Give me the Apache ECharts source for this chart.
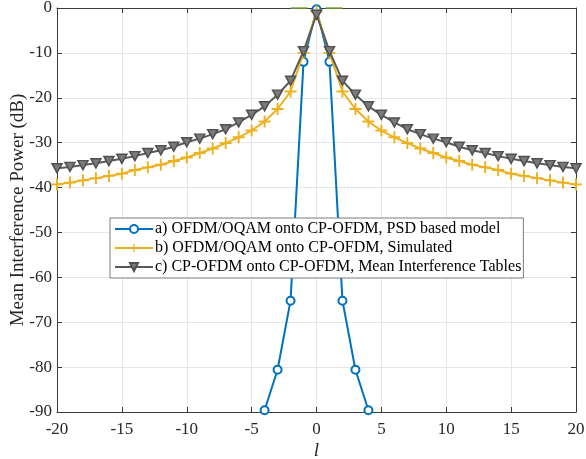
<!DOCTYPE html>
<html><head><meta charset="utf-8">
<script src="https://cdn.jsdelivr.net/npm/echarts@6/dist/echarts.min.js"></script>
<style>html,body{margin:0;padding:0;background:#fff}#c{width:586px;height:459px}</style>
</head><body><div id="c"></div>
<script>
var lAll = [-20,-19,-18,-17,-16,-15,-14,-13,-12,-11,-10,-9,-8,-7,-6,-5,-4,-3,-2,-1,0,1,2,3,4,5,6,7,8,9,10,11,12,13,14,15,16,17,18,19,20];
var lBlue = [-4,-3,-2,-1,0,1,2,3,4];
var blueVals = [-89.6,-80.6,-65.2,-12.0,-0.3,-12.0,-65.2,-80.6,-89.6];
var yellowVals = [-39.3,-38.9,-38.4,-37.9,-37.4,-36.9,-36.1,-35.5,-34.9,-34.1,-33.3,-32.3,-31.3,-30.1,-28.8,-27.3,-25.3,-22.5,-18.6,-10.0,-0.8,
                  -10.0,-18.6,-22.5,-25.3,-27.3,-28.8,-30.1,-31.3,-32.3,-33.3,-34.1,-34.9,-35.5,-36.1,-36.9,-37.4,-37.9,-38.4,-38.9,-39.3];
var grayVals = [-35.7,-35.4,-35.0,-34.6,-34.1,-33.6,-33.0,-32.3,-31.7,-30.9,-29.9,-29.1,-28.1,-27.0,-25.5,-23.8,-21.9,-19.3,-16.2,-9.6,-1.5,
                -9.6,-16.2,-19.3,-21.9,-23.8,-25.5,-27.0,-28.1,-29.1,-29.9,-30.9,-31.7,-32.3,-33.0,-33.6,-34.1,-34.6,-35.0,-35.4,-35.7];
var lGreen = [-2,-0.7,null,0.7,2];
var greenVals = [0,0,null,0,0];
var xTicks = [-20,-15,-10,-5,0,5,10,15,20];
var yTicks = [0,-10,-20,-30,-40,-50,-60,-70,-80,-90];
var names = ['a) OFDM/OQAM onto CP-OFDM, PSD based model','b) OFDM/OQAM onto CP-OFDM, Simulated','c) CP-OFDM onto CP-OFDM, Mean Interference Tables'];

function pairs(xs, ys){ return xs.map(function(x,i){ return (x===null)? [null,null] : [x, ys[i]]; }); }
var FONT = '"Liberation Serif","Times New Roman",serif';
var plusPath = 'path://M-1,-0.16H-0.16V-1H0.16V-0.16H1V0.16H0.16V1H-0.16V0.16H-1Z';
var axisCol = '#3a3a3a';

var chart = echarts.init(document.getElementById('c'), null, {renderer:'canvas'});
chart.setOption({
  animation:false,
  textStyle:{fontFamily:FONT},
  grid:{left:57, right:10, top:8, bottom:47, outerBoundsMode:'none', containLabel:false},
  legend:{
    orient:'vertical', left:110, top:218,
    backgroundColor:'#fff', borderColor:'#7a7a7a', borderWidth:1, borderRadius:0,
    padding:[3,2,3,4], itemGap:3, itemWidth:38, itemHeight:10,
    textStyle:{fontFamily:FONT, fontSize:16, lineHeight:16, color:'#000', padding:[0,0,0,-3]},
    data:names
  },
  xAxis:[{
    type:'value', min:-20, max:20, interval:5, position:'bottom',
    name:'l', nameLocation:'middle', nameGap:29, nameMoveOverlap:false,
    nameTextStyle:{fontFamily:FONT, fontSize:19, fontStyle:'italic', color:'#262626'},
    axisLine:{show:true, onZero:false, lineStyle:{color:axisCol, width:1}},
    axisTick:{show:true, inside:true, length:5, lineStyle:{color:axisCol}},
    axisLabel:{fontFamily:FONT, fontSize:17, color:'#262626', margin:9,
      formatter:function(v){ return xTicks.indexOf(v)>=0 ? String(v) : ''; }},
    splitLine:{show:true, lineStyle:{color:'#e6e6e6', width:1}}
  },{
    type:'value', min:-20, max:20, interval:5, position:'top',
    axisLine:{show:true, onZero:false, lineStyle:{color:axisCol, width:1}},
    axisTick:{show:true, inside:true, length:5, lineStyle:{color:axisCol}},
    axisLabel:{show:false}, splitLine:{show:false}
  }],
  yAxis:[{
    type:'value', min:-90, max:0, interval:10, position:'left',
    name:'Mean Interference Power (dB)', nameLocation:'middle', nameGap:29, nameMoveOverlap:false,
    nameTextStyle:{fontFamily:FONT, fontSize:19, color:'#262626'},
    axisLine:{show:true, onZero:false, lineStyle:{color:axisCol, width:1}},
    axisTick:{show:true, inside:true, length:5, lineStyle:{color:axisCol}},
    axisLabel:{fontFamily:FONT, fontSize:17, color:'#262626', margin:5,
      formatter:function(v){ return yTicks.indexOf(v)>=0 ? String(v) : ''; }},
    splitLine:{show:true, lineStyle:{color:'#e6e6e6', width:1}}
  },{
    type:'value', min:-90, max:0, interval:10, position:'right',
    axisLine:{show:true, onZero:false, lineStyle:{color:axisCol, width:1}},
    axisTick:{show:true, inside:true, length:5, lineStyle:{color:axisCol}},
    axisLabel:{show:false}, splitLine:{show:false}
  }],
  series:[
    {type:'line', name:'green', data:pairs(lGreen, greenVals), connectNulls:false,
     symbol:'none', lineStyle:{color:'#77AC30', width:1.5}, itemStyle:{color:'#77AC30'}, z:1, clip:false},
    {type:'line', name:names[0], data:pairs(lBlue, blueVals),
     symbol:'emptyCircle', symbolSize:8, showAllSymbol:true,
     lineStyle:{color:'#0072BD', width:2}, itemStyle:{color:'#0072BD', borderWidth:2, borderColor:'#0072BD'}, z:2},
    {type:'line', name:names[1], data:pairs(lAll, yellowVals),
     symbol:plusPath, symbolSize:12, showAllSymbol:true,
     lineStyle:{color:'#EDB120', width:2}, itemStyle:{color:'#EDB120'}, z:3},
    {type:'line', name:names[2], data:pairs(lAll, grayVals),
     symbol:'triangle', symbolRotate:180, symbolSize:[10,9], showAllSymbol:true,
     lineStyle:{color:'#5a5a5a', width:2}, itemStyle:{color:'#7a7a7a', borderColor:'#505050', borderWidth:1.5}, z:4}
  ]
});
</script></body></html>
